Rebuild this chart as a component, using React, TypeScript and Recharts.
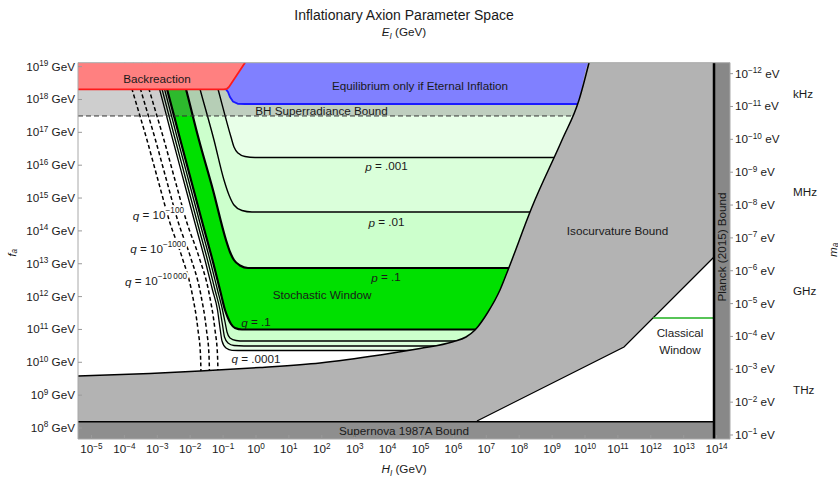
import React from 'react';
import { ComposedChart, Area, XAxis, YAxis, ReferenceDot, Label } from 'recharts';

type Pt = { h: number; f: number };
const toPts = (rows: number[][]): Pt[] => rows.map(([h, f]) => ({ h, f }));

// ---- axis extents (log10 units) ----
const H_MIN = -5.41;
const H_MAX = 14.407;
const F_MIN = 7.665;
const F_MAX = 19.12;
// top axis: log10 E_I = 0.5 * log10 H_I + E_OFFSET
const E_OFFSET = 9.32;
// right axis: log10 m_a = MA_OFFSET - log10 f_a
const MA_OFFSET = 6.787;
const PLANCK_EV_S = 4.135667e-15;

const hTicks = [-5, -4, -3, -2, -1, 0, 1, 2, 3, 4, 5, 6, 7, 8, 9, 10, 11, 12, 13, 14];
const fTicks = [8, 9, 10, 11, 12, 13, 14, 15, 16, 17, 18, 19];
const eTicks = [7, 8, 9, 10, 11, 12, 13, 14, 15, 16];
const maTicks = [-12, -11, -10, -9, -8, -7, -6, -5, -4, -3, -2, -1];
const freqLabels = ['kHz', 'MHz', 'GHz', 'THz'];
const freqHz = [1e3, 1e6, 1e9, 1e12];

// ---- horizontal bounds ----
const BACKREACTION_F = 18.32;
const SUPERRADIANCE_F = 17.498;
const SUPERNOVA_F = 8.192;
const PLANCK_H = 13.921;
const CLASSICAL_F = 11.349;

// ---- isocurvature / lower bound ----
const isocurvatureEdge = toPts([
  [-5.41, 9.583], [-3.222, 9.659], [-1.702, 9.735], [0.122, 9.842], [1.945, 9.979],
  [3.769, 10.222], [4.985, 10.42], [5.988, 10.627], [6.383, 10.77], [6.657, 10.983],
  [7.052, 11.531], [7.416, 12.201], [7.66, 12.81], [8.389, 14.728], [9.301, 16.767],
  [9.818, 17.985], [10.122, 19.12],
]);

// ---- q contours (left edge of the window) ----
const qCurve1 = toPts([
  [-2.918, 19.12], [-2.705, 18.32], [-2.34, 16.92], [-1.976, 15.549], [-1.611, 14.18],
  [-1.307, 13.053], [-1.094, 12.201], [-0.942, 11.592], [-0.851, 11.349], [-0.76, 11.166],
  [-0.638, 11.044], [-0.426, 10.998], [10.456, 10.998],
]);
const qCurve01 = toPts([
  [-2.994, 19.12], [-2.781, 18.32], [-2.416, 16.92], [-2.052, 15.549], [-1.687, 14.18],
  [-1.383, 13.053], [-1.17, 12.201], [-1.018, 11.592], [-0.942, 11.227], [-0.881, 10.922],
  [-0.79, 10.74], [-0.608, 10.664], [-0.365, 10.648], [10.456, 10.648],
]);
const qCurve001 = toPts([
  [-3.07, 19.12], [-2.857, 18.32], [-2.492, 16.92], [-2.128, 15.549], [-1.763, 14.18],
  [-1.459, 13.053], [-1.246, 12.201], [-1.094, 11.592], [-1.018, 11.136], [-0.957, 10.77],
  [-0.851, 10.588], [-0.669, 10.511], [-0.365, 10.496], [10.456, 10.496],
]);
const qCurve0001 = toPts([
  [-3.146, 19.12], [-2.933, 18.32], [-2.568, 16.92], [-2.204, 15.549], [-1.839, 14.18],
  [-1.535, 13.053], [-1.322, 12.201], [-1.17, 11.592], [-1.094, 11.044], [-1.033, 10.648],
  [-0.912, 10.435], [-0.729, 10.365], [-0.365, 10.359], [10.456, 10.359],
]);

// ---- p contours (upper edge of the window) ----
const pCurve1 = toPts([
  [-2.34, 19.12], [-2.128, 18.32], [-1.733, 16.767], [-1.307, 15.245], [-0.912, 13.723],
  [-0.79, 13.358], [-0.669, 13.114], [-0.486, 12.947], [-0.243, 12.871], [10.456, 12.871],
]);
const pCurve01 = toPts([
  [-1.915, 19.12], [-1.702, 18.32], [-1.277, 16.767], [-0.973, 15.549], [-0.821, 15.093],
  [-0.669, 14.788], [-0.426, 14.621], [-0.122, 14.575], [10.456, 14.575],
]);
const pCurve001 = toPts([
  [-1.368, 19.12], [-1.155, 18.32], [-0.76, 16.858], [-0.669, 16.554], [-0.547, 16.371],
  [-0.334, 16.265], [-0.03, 16.234], [10.456, 16.234],
]);

// ---- tiny-q dashed contours ----
const dashedQ100 = toPts([
  [-3.997, 19.12], [-3.769, 18.32], [-3.313, 16.767], [-2.979, 15.549], [-2.614, 14.241],
  [-2.249, 13.205], [-1.945, 12.11], [-1.763, 10.983], [-1.687, 10.222], [-1.672, 9.674],
]);
const dashedQ1000 = toPts([
  [-3.739, 19.12], [-3.511, 18.32], [-3.055, 16.767], [-2.721, 15.549], [-2.356, 14.241],
  [-1.991, 13.205], [-1.687, 12.11], [-1.505, 10.983], [-1.429, 10.222], [-1.414, 9.674],
]);
const dashedQ10000 = toPts([
  [-3.48, 19.12], [-3.252, 18.32], [-2.796, 16.767], [-2.462, 15.549], [-2.097, 14.241],
  [-1.732, 13.205], [-1.428, 12.11], [-1.246, 10.983], [-1.17, 10.222], [-1.155, 9.674],
]);

// ---- top strip ----
const backreactionEdge = toPts([
  [-5.41, 18.311], [-0.973, 18.311], [-0.881, 18.326], [-0.821, 18.381], [-0.334, 19.12],
]);
const equilibriumEdge = toPts([
  [-0.912, 18.305], [-0.851, 18.228], [-0.79, 18.076], [-0.699, 17.939], [-0.547, 17.869],
  [-0.334, 17.863], [9.772, 17.863],
]);

// ---- classical window ----
const classicalEdge = toPts([[6.717, 8.213], [11.185, 10.466], [PLANCK_H, 13.205]]);
const classicalLine = toPts([[12.067, CLASSICAL_F], [PLANCK_H, CLASSICAL_F]]);

// ---- derived shapes ----
const grayRegion = [...isocurvatureEdge, { h: H_MAX, f: F_MAX }];
const equilibriumRegion = [...equilibriumEdge, ...isocurvatureEdge.slice(-2)];
const superradianceBand = toPts([[H_MIN, BACKREACTION_F], [10.6, BACKREACTION_F]]);
const superradianceLine = toPts([[H_MIN, SUPERRADIANCE_F], [10.6, SUPERRADIANCE_F]]);
const supernovaRegion = toPts([[H_MIN, SUPERNOVA_F], [PLANCK_H, SUPERNOVA_F]]);
const planckRegion = toPts([[PLANCK_H, F_MAX], [H_MAX, F_MAX]]);
const planckLine = toPts([[PLANCK_H, F_MIN], [PLANCK_H, F_MAX]]);

const FONT = '"Liberation Sans", Arial, Helvetica, sans-serif';
const TXT = '#1a1a1a';
const FS = 11.7;
const SUP = 8.2;

const C_LIGHT3 = '#e8ffe8';
const C_LIGHT2 = '#daffda';
const C_LIGHT1 = '#ccffcc';
const C_STOCH = '#00e000';
const C_GRAY = '#b3b3b3';

const expText = (e: number) => (e < 0 ? '\u2212' + Math.abs(e) : String(e));

const fillArea = (key: string, data: Pt[], color: string, base: any, opacity = 1, type = 'monotone') => (
  <Area
    key={key}
    xAxisId="h"
    yAxisId="f"
    data={data}
    dataKey="f"
    type={type as any}
    baseValue={base}
    fill={color}
    fillOpacity={opacity}
    stroke="none"
    dot={false}
    activeDot={false}
    isAnimationActive={false}
  />
);

const strokeLine = (key: string, data: Pt[], color: string, width: number, dash?: string, type = 'monotone') => (
  <Area
    key={key}
    xAxisId="h"
    yAxisId="f"
    data={data}
    dataKey="f"
    type={type as any}
    fill="none"
    stroke={color}
    strokeWidth={width}
    strokeDasharray={dash}
    dot={false}
    activeDot={false}
    isAnimationActive={false}
  />
);

type RegionLabel = { key: string; h: number; f: number; node: React.ReactNode; anchor?: string; rotate?: boolean; halo?: boolean };

const it = (s: string) => <tspan fontStyle="italic">{s}</tspan>;
const qPow = (e: string) => (
  <>
    {it('q')} = 10<tspan dy={-4.5} fontSize={SUP}>{e}</tspan>
  </>
);

const regionLabels: RegionLabel[] = [
  { key: 'back', h: -3.009, f: 18.624, node: 'Backreaction' },
  { key: 'eq', h: 4.985, f: 18.411, node: 'Equilibrium only if Eternal Inflation' },
  { key: 'bh', h: 1.991, f: 17.65, node: 'BH Superradiance Bound' },
  { key: 'p001', h: 3.967, f: 15.976, node: <>{it('p')} = .001</> },
  { key: 'p01', h: 3.967, f: 14.271, node: <>{it('p')} = .01</> },
  { key: 'p1', h: 3.951, f: 12.597, node: <>{it('p')} = .1</> },
  { key: 'stoch', h: 2.006, f: 12.049, node: 'Stochastic Window' },
  { key: 'q1', h: 0, f: 11.227, node: <>{it('q')} = .1</> },
  { key: 'q0001', h: 0, f: 10.116, node: <>{it('q')} = .0001</> },
  { key: 'q100', h: -2.188, f: 14.484, node: qPow('\u2212100'), anchor: 'end', halo: true },
  { key: 'q1000', h: -2.128, f: 13.479, node: qPow('\u22121000'), anchor: 'end', halo: true },
  { key: 'q10000', h: -2.097, f: 12.475, node: qPow('\u221210\u2009000'), anchor: 'end', halo: true },
  { key: 'iso', h: 10.988, f: 14.027, node: 'Isocurvature Bound' },
  { key: 'cl1', h: 12.888, f: 10.892, node: 'Classical' },
  { key: 'cl2', h: 12.888, f: 10.39, node: 'Window' },
  { key: 'sn', h: 4.498, f: 7.924, node: 'Supernova 1987A Bound' },
  { key: 'planck', h: 14.164, f: 13.51, node: 'Planck (2015) Bound', rotate: true },
];

const BottomTick = (p: any) => (
  <g>
    <line x1={p.x} x2={p.x} y1={p.y} y2={p.y - 4} stroke="#9a9a9a" />
    <text x={p.x} y={p.y + 14.3} textAnchor="middle" fontSize={FS} fontFamily={FONT} fill={TXT}>
      10<tspan dy={-4.5} fontSize={SUP}>{expText(p.payload.value)}</tspan>
    </text>
  </g>
);

const TopTick = (p: any) => (
  <g>
    <line x1={p.x} x2={p.x} y1={p.y} y2={p.y + 4} stroke="#9a9a9a" />
    <text x={p.x} y={p.y - 6} textAnchor="middle" fontSize={FS} fontFamily={FONT} fill={TXT}>
      10<tspan dy={-4.5} fontSize={SUP}>{expText(p.payload.value)}</tspan>
    </text>
  </g>
);

const LeftTick = (p: any) => (
  <g>
    <line x1={p.x} x2={p.x + 4} y1={p.y} y2={p.y} stroke="#9a9a9a" />
    <text x={p.x - 3} y={p.y + 4} textAnchor="end" fontSize={FS} fontFamily={FONT} fill={TXT}>
      10<tspan dy={-4.5} fontSize={SUP}>{expText(p.payload.value)}</tspan>
      <tspan dy={4.5}>{'\u00a0GeV'}</tspan>
    </text>
  </g>
);

const RightTick = (p: any) => (
  <g>
    <line x1={p.x} x2={p.x + 3} y1={p.y} y2={p.y} stroke="#9a9a9a" />
    <text x={p.x + 5} y={p.y + 4} textAnchor="start" fontSize={FS} fontFamily={FONT} fill={TXT}>
      10<tspan dy={-4.5} fontSize={SUP}>{expText(p.payload.value)}</tspan>
      <tspan dy={4.5}>{'\u00a0eV'}</tspan>
    </text>
  </g>
);

const FreqTick = (p: any) => (
  <text x={p.x + 13} y={p.y + 4} textAnchor="start" fontSize={FS} fontFamily={FONT} fill={TXT}>
    {freqLabels[p.index]}
  </text>
);

export default function App() {
  const freqTicks = freqHz.map((hz) => Math.log10(PLANCK_EV_S * hz));
  return (
    <div style={{ position: 'absolute', left: 0, top: 0, width: 838, height: 477, background: '#ffffff' }}>
      <ComposedChart width={838} height={477} margin={{ top: 32.7, right: 8, bottom: 8, left: 18 }}>
        {/* nested window fills, painted from outermost contour inwards */}
        {fillArea('fq0001', qCurve0001, C_LIGHT3, 'dataMax')}
        {fillArea('fq001', qCurve001, C_LIGHT2, 'dataMax')}
        {fillArea('fq01', qCurve01, C_LIGHT1, 'dataMax')}
        {fillArea('fq1', qCurve1, C_STOCH, 'dataMax')}
        {fillArea('fp1', pCurve1, C_LIGHT1, 'dataMax')}
        {fillArea('fp01', pCurve01, C_LIGHT2, 'dataMax')}
        {fillArea('fp001', pCurve001, C_LIGHT3, 'dataMax')}

        {/* black hole superradiance band */}
        {fillArea('band', superradianceBand, '#797979', SUPERRADIANCE_F, 0.37, 'linear')}

        {/* contour lines */}
        {strokeLine('lq0001', qCurve0001, '#000', 1.3)}
        {strokeLine('lq001', qCurve001, '#000', 1.3)}
        {strokeLine('lq01', qCurve01, '#000', 1.3)}
        {strokeLine('lq1', qCurve1, '#000', 2.2)}
        {strokeLine('lp001', pCurve001, '#000', 1.4)}
        {strokeLine('lp01', pCurve01, '#000', 1.4)}
        {strokeLine('lp1', pCurve1, '#000', 2.2)}
        {strokeLine('ld100', dashedQ100, '#000', 1.5, '4 2.6')}
        {strokeLine('ld1000', dashedQ1000, '#000', 1.5, '4 2.6')}
        {strokeLine('ld10000', dashedQ10000, '#000', 1.5, '4 2.6')}
        {strokeLine('lbh', superradianceLine, '#333', 1, '5 3', 'linear')}

        {/* equilibrium and backreaction strip */}
        {fillArea('eq', equilibriumRegion, '#8080ff', 'dataMax', 1, 'linear')}
        {strokeLine('leq', equilibriumEdge, '#1a1aff', 1.8, undefined, 'linear')}
        <Area
          xAxisId="h"
          yAxisId="f"
          data={backreactionEdge}
          dataKey="f"
          type="linear"
          baseValue="dataMax"
          fill="#ff8080"
          fillOpacity={1}
          stroke="#ff1a1a"
          strokeWidth={1.8}
          dot={false}
          activeDot={false}
          isAnimationActive={false}
        />

        {/* isocurvature and lower bound */}
        {fillArea('gray', grayRegion, C_GRAY, 'dataMin')}
        {strokeLine('lgray', isocurvatureEdge, '#000', 1.5)}

        {/* classical window */}
        <Area
          xAxisId="h"
          yAxisId="f"
          data={classicalEdge}
          dataKey="f"
          type="linear"
          baseValue={SUPERNOVA_F}
          fill="#ffffff"
          fillOpacity={1}
          stroke="#000"
          strokeWidth={1.3}
          dot={false}
          activeDot={false}
          isAnimationActive={false}
        />
        {strokeLine('lcl', classicalLine, '#1fb01f', 1.5, undefined, 'linear')}

        {/* supernova and Planck bounds */}
        <Area
          xAxisId="h"
          yAxisId="f"
          data={supernovaRegion}
          dataKey="f"
          type="linear"
          baseValue="dataMin"
          fill="#8e8e8e"
          fillOpacity={1}
          stroke="#000"
          strokeWidth={1.5}
          dot={false}
          activeDot={false}
          isAnimationActive={false}
        />
        {fillArea('planck', planckRegion, '#888888', 'dataMin', 1, 'linear')}
        {strokeLine('lplanck', planckLine, '#000', 2.5, undefined, 'linear')}

        {regionLabels.map((l) => (
          <ReferenceDot
            key={l.key}
            xAxisId="h"
            yAxisId="f"
            x={l.h}
            y={l.f}
            r={0}
            ifOverflow="visible"
            shape={(p: any) => (
              <text
                x={p.cx}
                y={p.cy}
                textAnchor={(l.anchor as any) || 'middle'}
                dominantBaseline="central"
                fontSize={FS}
                fontFamily={FONT}
                fill={TXT}
                transform={l.rotate ? `rotate(-90 ${p.cx} ${p.cy})` : undefined}
                stroke={l.halo ? '#ffffff' : undefined}
                strokeWidth={l.halo ? 4 : undefined}
                paintOrder="stroke"
                strokeLinejoin="round"
              >
                {l.node}
              </text>
            )}
          />
        ))}

        <XAxis
          xAxisId="h"
          dataKey="h"
          type="number"
          orientation="bottom"
          domain={[H_MIN, H_MAX]}
          allowDataOverflow
          ticks={hTicks}
          interval={0}
          tickSize={0}
          tickMargin={0}
          tick={BottomTick}
          stroke="#a8a8a8"
          height={30}
        >
          <Label
            content={(p: any) => (
              <text x={p.viewBox.x + p.viewBox.width / 2} y={p.viewBox.y + 34} textAnchor="middle" fontSize={FS} fontFamily={FONT} fill={TXT}>
                {it('H')}
                <tspan dy={2.5} fontSize={SUP} fontStyle="italic">I</tspan>
                <tspan dy={-2.5}>{' (GeV)'}</tspan>
              </text>
            )}
          />
        </XAxis>
        <XAxis
          xAxisId="e"
          type="number"
          orientation="top"
          domain={[0.5 * H_MIN + E_OFFSET, 0.5 * H_MAX + E_OFFSET]}
          allowDataOverflow
          ticks={eTicks}
          interval={0}
          tickSize={0}
          tickMargin={0}
          tick={TopTick}
          stroke="#a8a8a8"
          height={30}
        >
          <Label
            content={(p: any) => (
              <g>
                <text x={p.viewBox.x + p.viewBox.width / 2} y={p.viewBox.y - 13} textAnchor="middle" fontSize={14} fontFamily={FONT} fill={TXT}>
                  Inflationary Axion Parameter Space
                </text>
                <text x={p.viewBox.x + p.viewBox.width / 2} y={p.viewBox.y + 3.5} textAnchor="middle" fontSize={FS} fontFamily={FONT} fill={TXT}>
                  {it('E')}
                  <tspan dy={3} fontSize={SUP} fontStyle="italic">I</tspan>
                  <tspan dy={-3}>{' (GeV)'}</tspan>
                </text>
              </g>
            )}
          />
        </XAxis>
        <YAxis
          yAxisId="f"
          type="number"
          orientation="left"
          domain={[F_MIN, F_MAX]}
          allowDataOverflow
          ticks={fTicks}
          interval={0}
          tickSize={0}
          tickMargin={0}
          tick={LeftTick}
          stroke="#a8a8a8"
          width={60}
        >
          <Label
            content={(p: any) => {
              const cx = p.viewBox.x - 7;
              const cy = p.viewBox.y + p.viewBox.height / 2 + 2;
              return (
                <text x={cx} y={cy} textAnchor="middle" dominantBaseline="central" transform={`rotate(-90 ${cx} ${cy})`} fontSize={FS} fontFamily={FONT} fill={TXT}>
                  {it('f')}
                  <tspan dy={3} fontSize={SUP} fontStyle="italic">a</tspan>
                </text>
              );
            }}
          />
        </YAxis>
        <YAxis
          yAxisId="ma"
          type="number"
          orientation="right"
          domain={[MA_OFFSET - F_MAX, MA_OFFSET - F_MIN]}
          reversed
          allowDataOverflow
          ticks={maTicks}
          interval={0}
          tickSize={0}
          tickMargin={0}
          tick={RightTick}
          stroke="#a8a8a8"
          width={50}
        />
        <YAxis
          yAxisId="nu"
          type="number"
          orientation="right"
          domain={[MA_OFFSET - F_MAX, MA_OFFSET - F_MIN]}
          reversed
          allowDataOverflow
          ticks={freqTicks}
          interval={0}
          tickSize={0}
          tickMargin={0}
          tick={FreqTick}
          axisLine={false}
          width={50}
        >
          <Label
            content={(p: any) => {
              const cx = p.viewBox.x + 52;
              const cy = p.viewBox.y + p.viewBox.height / 2 - 1;
              return (
                <text x={cx} y={cy} textAnchor="middle" dominantBaseline="central" transform={`rotate(-90 ${cx} ${cy})`} fontSize={FS} fontFamily={FONT} fill={TXT}>
                  {it('m')}
                  <tspan dy={3} fontSize={SUP} fontStyle="italic">a</tspan>
                </text>
              );
            }}
          />
        </YAxis>
      </ComposedChart>
    </div>
  );
}
